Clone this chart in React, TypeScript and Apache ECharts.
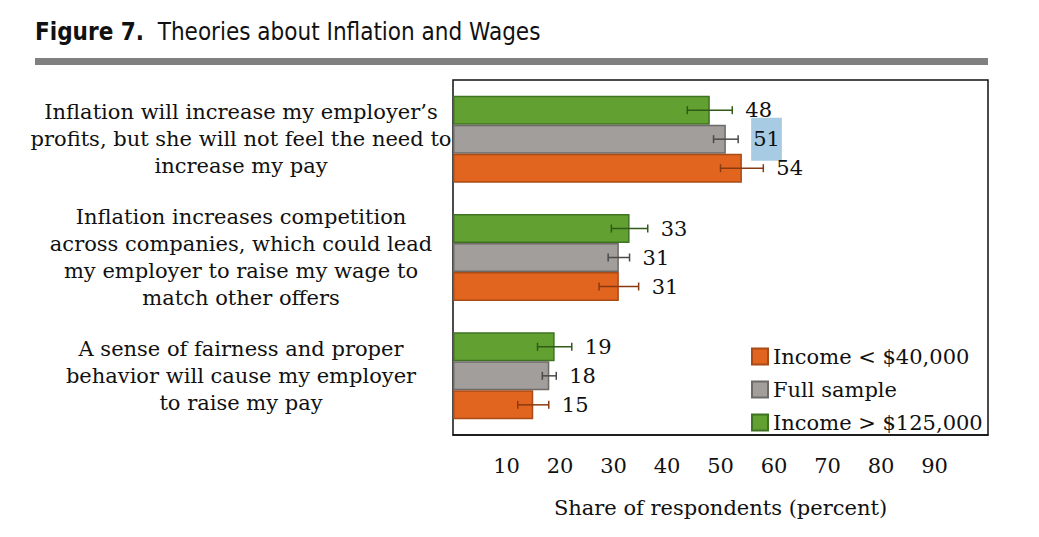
import React, { useEffect, useRef } from 'react';
import * as echarts from 'echarts';

// top-to-bottom order as in the figure
const categories = [
  'Inflation will increase my employer’s\nprofits, but she will not feel the need to\nincrease my pay',
  'Inflation increases competition\nacross companies, which could lead\nmy employer to raise my wage to\nmatch other offers',
  'A sense of fairness and proper\nbehavior will cause my employer\nto raise my pay',
];
const legendNames = ['Income < $40,000', 'Full sample', 'Income > $125,000'];
const lowIncome = [54, 31, 15];
const fullSample = [51, 31, 18];
const highIncome = [48, 33, 19];
const lowErr = [4, 3.7, 2.9];
const fullErr = [2.3, 2, 1.3];
const highErr = [4.2, 3.4, 3.2];
const xTicks = [10, 20, 30, 40, 50, 60, 70, 80, 90];

// drawing order: top bar first (green), then gray, then orange
const seriesNames = [legendNames[2], legendNames[1], legendNames[0]];
const fills = ['#62a032', '#a29e9b', '#e2651f'];
const borders = ['#3f7322', '#6e6a67', '#a94b17'];
const errColors = ['#2f5a18', '#4a4a4a', '#8a3a10'];

const App: React.FC = () => {
  const ref = useRef<HTMLDivElement>(null);

  useEffect(() => {
    if (!ref.current) return;
    const chart = echarts.init(ref.current, null, { renderer: 'svg' });
    const axisCats = [...categories].reverse();
    const values = [highIncome, fullSample, lowIncome].map((a) => [...a].reverse());
    const errs = [highErr, fullErr, lowErr].map((a) => [...a].reverse());
    const font = '"DejaVu Serif", serif';

    const barSeries = values.map((v, i) => ({
      name: seriesNames[i],
      type: 'bar',
      data: v,
      barWidth: 29,
      barGap: '0%',
      itemStyle: { color: fills[i], borderColor: borders[i], borderWidth: 1.5 },
    }));

    const errSeries = values.map((v, i) => ({
      type: 'custom',
      name: 'err' + i,
      data: v.map((val, j) => [val, j, errs[i][j]]),
      renderItem: (params: any, api: any) => {
        const val = api.value(0);
        const cat = api.value(1);
        const e = api.value(2);
        const c = api.coord([val, cat]);
        const y = c[1] + (i - 1) * 29;
        const lo = api.coord([val - e, cat])[0];
        const hi = api.coord([val + e, cat])[0];
        const st = { stroke: errColors[i], lineWidth: 1.5 };
        const hl = i === 1 && cat === 2;
        return {
          type: 'group',
          children: [
            { type: 'line', shape: { x1: lo, y1: y, x2: hi, y2: y }, style: st },
            { type: 'line', shape: { x1: lo, y1: y - 4, x2: lo, y2: y + 4 }, style: st },
            { type: 'line', shape: { x1: hi, y1: y - 4, x2: hi, y2: y + 4 }, style: st },
            {
              type: 'text',
              x: hi + 13,
              y,
              z2: hl ? 1 : 2,
              style: {
                text: String(val),
                font: '21px ' + font,
                fill: '#111',
                verticalAlign: 'middle',
                backgroundColor: hl ? '#a7cbe2' : undefined,
                padding: hl ? [11, 2, 11, 2] : 0,
              },
            },
          ],
        };
      },
      z: 5,
    }));

    chart.setOption({
      animation: false,
      textStyle: { fontFamily: font },
      graphic: [
        {
          type: 'text',
          left: 35,
          top: 20,
          style: {
            text: '{b|Figure 7.}  Theories about Inflation and Wages',
            font: '24px "Liberation Sans Narrow", "DejaVu Sans Condensed", sans-serif',
            fill: '#111',
            rich: {
              b: { font: 'bold 24px "Liberation Sans Narrow", "DejaVu Sans Condensed", sans-serif', fill: '#111' },
            },
          },
        },
        { type: 'rect', shape: { x: 35, y: 58, width: 953, height: 7 }, style: { fill: '#808080' } },
      ],
      grid: {
        left: 453,
        top: 80,
        right: 51,
        bottom: 102,
        show: true,
        borderColor: '#111',
        borderWidth: 1.5,
      },
      legend: {
        orient: 'vertical',
        left: 746,
        top: 341,
        data: legendNames,
        icon: 'rect',
        itemWidth: 16,
        itemHeight: 16,
        itemGap: 12,
        textStyle: { fontSize: 21, color: '#111', fontFamily: font },
      },
      xAxis: {
        type: 'value',
        min: 0,
        max: 100,
        interval: 10,
        name: 'Share of respondents (percent)',
        nameLocation: 'middle',
        nameGap: 62,
        nameTextStyle: { fontSize: 21, color: '#111', fontFamily: font },
        axisLine: { show: true, lineStyle: { color: '#111', width: 1.5 } },
        axisTick: { show: false },
        splitLine: { show: false },
        axisLabel: {
          fontSize: 21,
          color: '#111',
          margin: 20,
          fontFamily: font,
          formatter: (v: number) => (xTicks.includes(v) ? String(v) : ''),
        },
      },
      yAxis: {
        type: 'category',
        data: axisCats,
        axisLine: { show: false },
        axisTick: { show: false },
        axisLabel: {
          fontSize: 21,
          color: '#111',
          align: 'center',
          margin: 212,
          lineHeight: 27,
          fontFamily: font,
        },
      },
      series: [...barSeries, ...errSeries],
    });
    return () => chart.dispose();
  }, []);

  return <div ref={ref} style={{ width: 1039, height: 537, margin: -8 }} />;
};

export default App;
